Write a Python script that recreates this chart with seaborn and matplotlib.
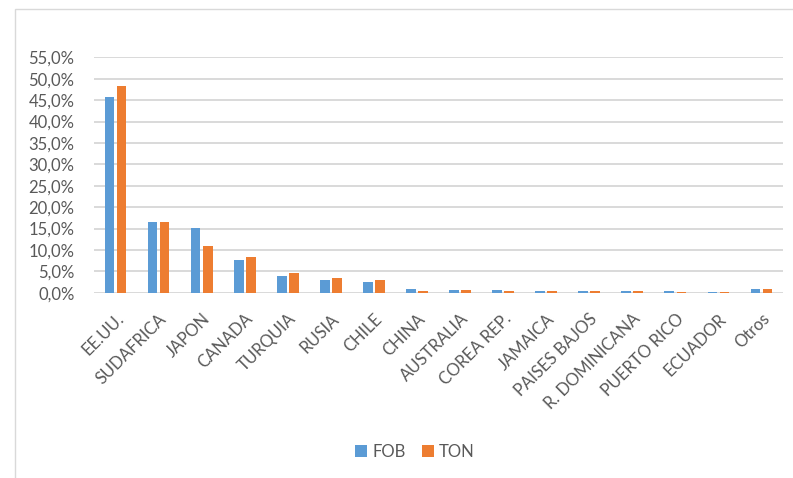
import matplotlib
matplotlib.use("Agg")
import matplotlib.pyplot as plt
import seaborn as sns
import pandas as pd
from matplotlib.patches import Rectangle
from matplotlib.ticker import FuncFormatter, MultipleLocator

categories = ["EE.UU.", "SUDAFRICA", "JAPON", "CANADA", "TURQUIA", "RUSIA", "CHILE",
              "CHINA", "AUSTRALIA", "COREA REP.", "JAMAICA", "PAISES BAJOS",
              "R. DOMINICANA", "PUERTO RICO", "ECUADOR", "Otros"]
fob = [45.8, 16.6, 15.2, 7.7, 3.8, 2.9, 2.5, 0.75, 0.7, 0.6, 0.5, 0.5, 0.35, 0.3, 0.1, 0.95]
ton = [48.3, 16.5, 10.9, 8.4, 4.5, 3.4, 3.05, 0.5, 0.6, 0.35, 0.5, 0.5, 0.45, 0.2, 0.1, 0.9]
series = ["FOB", "TON"]
colors = ["#5B9BD5", "#ED7D31"]

df = pd.DataFrame({
    "pais": categories * 2,
    "valor": fob + ton,
    "serie": [series[0]] * len(categories) + [series[1]] * len(categories),
})

sns.set_theme(style="white")
plt.rcParams["font.family"] = ["Lato", "DejaVu Sans"]
text_color = "#595959"

fig = plt.figure(figsize=(7.93, 4.78), dpi=100)
ax = fig.add_axes([94 / 793, 1 - 292.7 / 478, (783 - 94) / 793, (292.7 - 57.3) / 478])

sns.barplot(data=df, x="pais", y="valor", hue="serie", palette=colors,
            width=0.56, gap=0.2, ax=ax, linewidth=0, saturation=1)

ax.set_ylim(0, 55)
ax.set_xlim(-0.5, len(categories) - 0.5)
ax.yaxis.set_major_locator(MultipleLocator(5))
ax.yaxis.set_major_formatter(FuncFormatter(lambda v, p: f"{v:.1f}%".replace(".", ",")))
ax.grid(axis="y", color="#D9D9D9", linewidth=1.4)
ax.set_axisbelow(True)
for s in ["top", "right", "left", "bottom"]:
    ax.spines[s].set_visible(False)
ax.set_xlabel("")
ax.set_ylabel("")
ax.tick_params(axis="y", length=0, pad=14, labelsize=12, labelcolor=text_color)
ax.tick_params(axis="x", length=0, pad=13, labelsize=12, labelcolor=text_color)
for lab in ax.get_xticklabels():
    lab.set_rotation(45)
    lab.set_ha("right")
    lab.set_va("top")
    lab.set_rotation_mode("anchor")

leg = ax.legend(loc="center", bbox_to_anchor=(415 / 793, 1 - 452 / 478),
                bbox_transform=fig.transFigure, ncol=2, frameon=False,
                fontsize=12, handlelength=0.7, handleheight=0.7,
                handletextpad=0.3, columnspacing=1.0)
for t in leg.get_texts():
    t.set_color(text_color)

fig.patches.append(Rectangle((15 / 793, -0.1), 1.2, 1 - 9 / 478 + 0.1,
                             transform=fig.transFigure, fill=False,
                             edgecolor="#D9D9D9", linewidth=1.0))

fig.savefig("out.png", dpi=100, facecolor="white")
